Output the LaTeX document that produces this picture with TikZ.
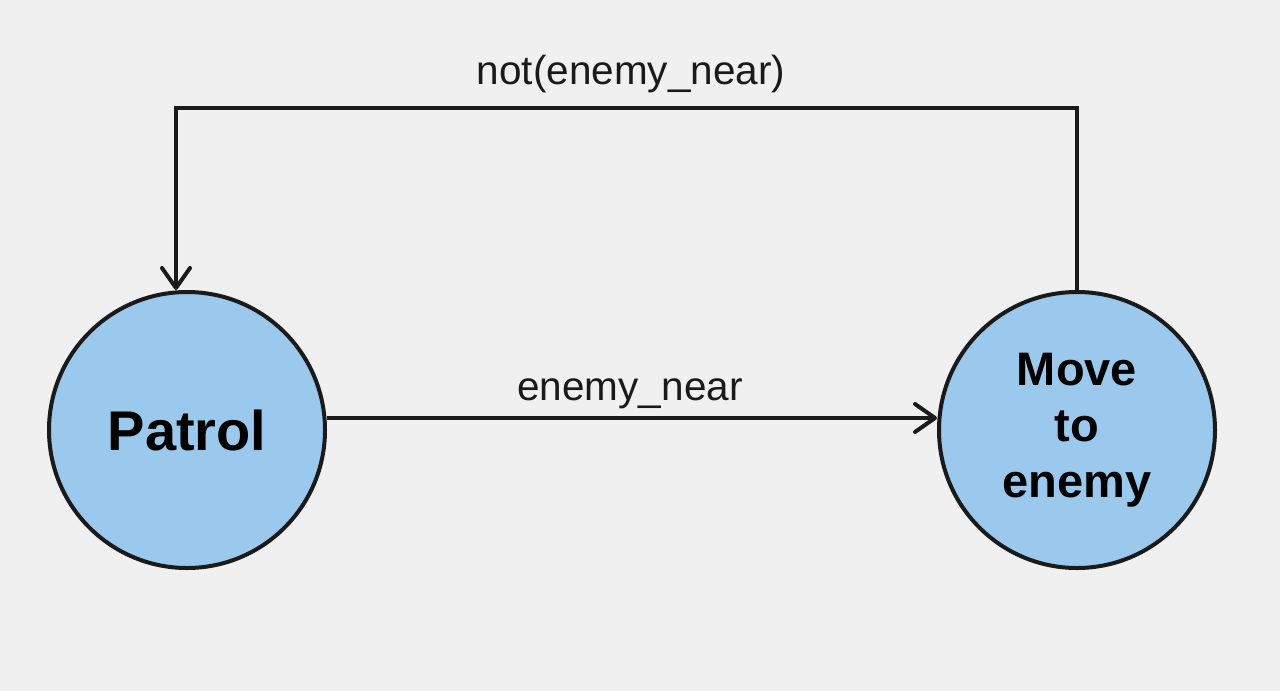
\documentclass[tikz,border=0pt]{standalone}
\usepackage{fontspec}
\setmainfont{Liberation Sans}
\usetikzlibrary{arrows.meta}
\definecolor{bg}{HTML}{F0F0F0}
\definecolor{statefill}{HTML}{9BC9EE}
\definecolor{ink}{HTML}{1A1A1A}
\begin{document}
\begin{tikzpicture}[x=1pt,y=-1pt,
  state/.style={circle,draw=ink,line width=4pt,fill=statefill,minimum size=276pt,inner sep=0pt,align=center,font=\bfseries\fontsize{47}{57}\selectfont},
  conn/.style={draw=ink,line width=4pt,-{Straight Barb[length=20pt,width=28pt,line cap=round,line join=round]}},
  lbl/.style={font=\fontsize{40.5}{44}\selectfont,text=ink,inner sep=0pt}]
\fill[bg] (0,0) rectangle (1280,691);
\useasboundingbox (0,0) rectangle (1280,691);
\node[state] (patrol) at (187,430) {\fontsize{56}{60}\selectfont Patrol};
\node[state] (move) at (1077,430) {\begin{tabular}{@{}c@{}}Move\\[-1pt]to\\[-1pt]enemy\end{tabular}};
\coordinate (tr) at (1077,108);
\coordinate (tl) at (176,108);
\draw[conn] (patrol.east |- 0,418) -- (move.west |- 0,418);
\draw[conn] (move.north) -- (tr) -- (tl) -- (patrol.north -| tl);
\node[lbl] (l1) at (630,394) {enemy\_near};
\node[lbl] (l2) at (631,74) {not(enemy\_near)};
\end{tikzpicture}
\end{document}
